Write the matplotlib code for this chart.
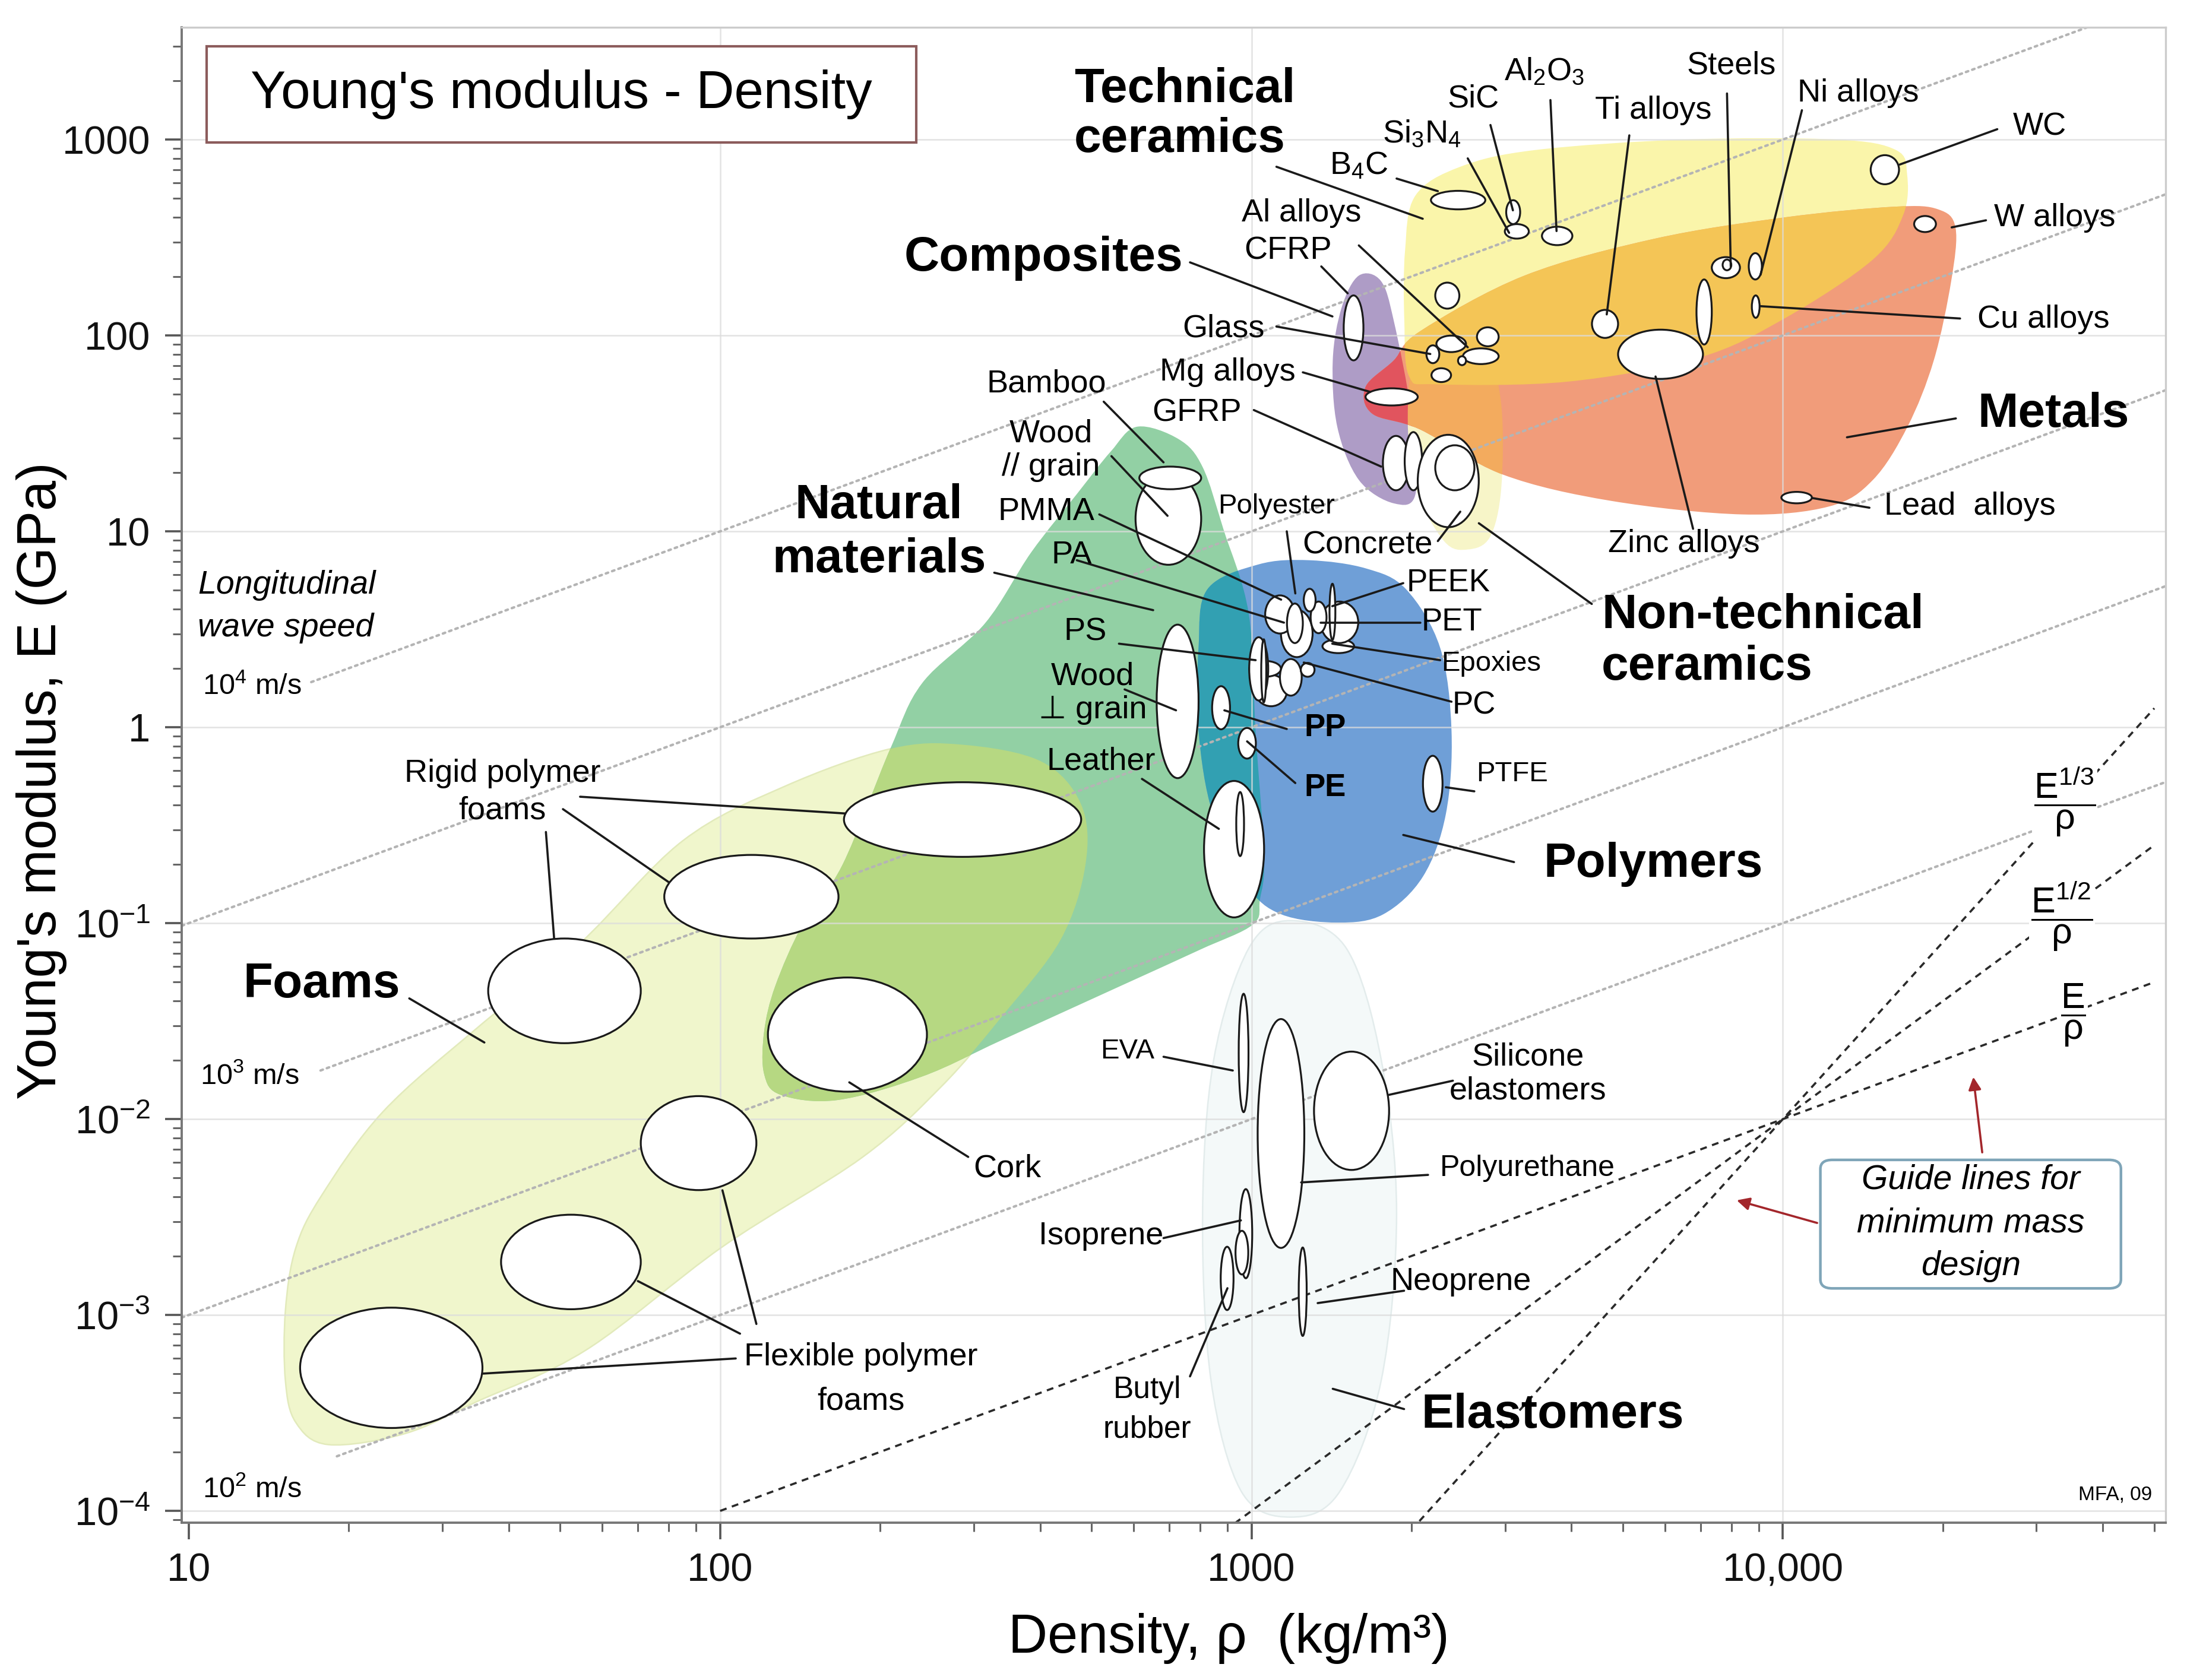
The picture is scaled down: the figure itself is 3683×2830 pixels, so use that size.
import numpy as np
import matplotlib
matplotlib.use("Agg")
import matplotlib.pyplot as plt
from matplotlib.path import Path
from matplotlib.patches import PathPatch, Rectangle, FancyBboxPatch
from matplotlib.ticker import LogLocator, NullFormatter, FixedLocator, FixedFormatter

plt.rcParams['font.family'] = ['Liberation Sans', 'DejaVu Sans']
plt.rcParams['mathtext.fontset'] = 'custom'
plt.rcParams['mathtext.rm'] = 'Liberation Sans'
plt.rcParams['mathtext.it'] = 'Liberation Sans:italic'
plt.rcParams['mathtext.bf'] = 'Liberation Sans:bold'

# ============================ DATA ============================
x_ticks = [10, 100, 1000, 10000]
x_tick_labels = ['10', '100', '1000', '10,000']
y_ticks = [1e-4, 1e-3, 1e-2, 1e-1, 1, 10, 100, 1000]
y_tick_labels = [r'$10^{-4}$', r'$10^{-3}$', r'$10^{-2}$', r'$10^{-1}$', '1', '10', '100', '1000']

# --- family envelopes (density kg/m3, modulus GPa) ---
foams_env_rho = [209, 285, 402, 478, 487, 437, 339, 261, 185, 101, 56, 34.9, 25.5, 18.3,
                 15.9, 15.2, 15.2, 15.9, 17.8, 23.2, 34.9, 54.3, 85, 132]
foams_env_E = [0.776, 0.815, 0.669, 0.403, 0.199, 0.0821, 0.0334, 0.0147, 6.37e-3, 2.23e-3,
               6.64e-4, 3.62e-4, 2.48e-4, 2.18e-4, 2.83e-4, 4.63e-4, 1.05e-3, 2.2e-3, 4.09e-3,
               0.0109, 0.0292, 0.0782, 0.263, 0.498]
natural_env_rho = [609, 730, 809, 886, 988, 1018, 1056, 1037, 1006, 800, 567, 339, 240, 166,
                   130, 121, 121, 127, 143, 170, 209, 240, 315, 385, 470, 543]
natural_env_E = [34.2, 29.5, 21.3, 10.2, 3.8, 0.944, 0.22, 0.132, 0.0984, 0.0732, 0.0478, 0.0253,
                 0.0165, 0.0125, 0.0133, 0.017, 0.0279, 0.0478, 0.0984, 0.199, 0.776, 1.68, 3.39,
                 7.82, 15.6, 25.5]
polymer_env_rho = [826, 1031, 1286, 1644, 1954, 2264, 2379, 2321, 2102, 1770, 1454, 1137, 981,
                   846, 795, 795]
polymer_env_E = [5.06, 6.78, 7.12, 6.46, 5.06, 2.55, 0.957, 0.36, 0.173, 0.111, 0.1007, 0.111,
                 0.156, 0.36, 0.957, 2.55]
elast_env_rho = [1185, 1508, 1754, 1875, 1754, 1464, 1185, 958, 839, 809, 849, 988]
elast_env_E = [0.103, 0.0744, 0.0201, 3.31e-3, 4.63e-4, 1.25e-4, 9.3e-5, 1.25e-4, 4.63e-4,
               3.31e-3, 0.0201, 0.0744]
composite_env_rho = [1592, 1751, 1852, 1998, 2037, 1852, 1592, 1450, 1422, 1478]
composite_env_E = [202, 190, 119, 39.9, 15.7, 13.9, 18.3, 34.2, 74.6, 139]
tech_env_rho = [2033, 2471, 3422, 6552, 12580, 16320, 17130, 16850, 14770, 10120, 6943, 3940,
                2238, 1980, 1939, 1945]
tech_env_E = [516, 726, 884, 1000, 1000, 884, 664, 413, 244, 123, 76.9, 58.1, 56.3, 61.7, 119, 270]
metal_env_rho = [2076, 3264, 5748, 10120, 16220, 19600, 21130, 20740, 19230, 17160, 14770, 12220,
                 8382, 4755, 2970, 2076, 1686, 1639, 1852]
metal_env_E = [105, 202, 312, 401, 454, 440, 354, 190, 74.6, 34.2, 18.3, 13.4, 12.2, 14.3, 19.5,
               33.1, 39.9, 54.6, 74.6]
nontech_env_rho = [2373, 2760, 2951, 2951, 2811, 2552, 2303, 2040, 1968, 2040]
nontech_env_E = [109, 85.6, 44.4, 16.6, 9.37, 8.08, 8.92, 16.6, 37.7, 78.8]

# --- material bubbles: (rho_low, rho_high), (E_low, E_high) ---
foam_bubble_rho = [(16.2, 35.7), (38.7, 70.9), (70.9, 117), (36.6, 70.9), (123, 245), (78.5, 167), (171, 478)]
foam_bubble_E = [(2.65e-4, 1.09e-3), (1.07e-3, 3.25e-3), (4.34e-3, 0.0131), (0.0244, 0.0835),
                 (0.0138, 0.0528), (0.0835, 0.223), (0.218, 0.524)]
natural_bubble_rho = [(605, 804), (615, 804), (663, 795), (814, 1056), (936, 968)]
natural_bubble_E = [(6.75, 19.9), (16.4, 21.4), (0.55, 3.34), (0.107, 0.532), (0.22, 0.467)]
polymer_bubble_rho = [(843, 911), (944, 1019), (2102, 2288), (1016, 1166), (990, 1136), (990, 1075),
                      (1043, 1066), (1131, 1243), (1238, 1314), (1136, 1303), (1061, 1206),
                      (1166, 1249), (1360, 1560), (1349, 1588), (1292, 1384), (1254, 1320), (1402, 1438)]
polymer_bubble_E = [(0.976, 1.62), (0.692, 0.992), (0.371, 0.715), (1.28, 1.85), (1.81, 2.18), (1.37, 2.88),
                    (1.34, 2.81), (1.45, 2.23), (1.81, 2.13), (2.28, 3.98), (3.01, 4.71),
                    (2.69, 4.28), (2.39, 2.81), (2.69, 4.38), (3.02, 4.38), (3.90, 5.09), (2.79, 5.40)]
elast_bubble_rho = [(946, 987), (1027, 1257), (1311, 1815), (949, 1003), (933, 986), (875, 925), (1227, 1270)]
elast_bubble_E = [(0.01085, 0.0436), (2.2e-3, 0.0324), (5.5e-3, 0.0221), (1.54e-3, 4.39e-3),
                  (1.61e-3, 2.69e-3), (1.06e-3, 2.23e-3), (7.82e-4, 2.21e-3)]
composite_bubble_rho = [(1491, 1624), (1767, 1980), (1942, 2094)]
composite_bubble_E = [(74.6, 160), (16.2, 30.7), (16.2, 32.1)]
ceramic_bubble_rho = [(2055, 2677), (2217, 2627), (2176, 2754), (3015, 3203), (2997, 3325), (3520, 4016),
                      (14630, 16540), (2217, 2461), (2134, 2256)]
ceramic_bubble_E = [(10.5, 31.1), (16.2, 27.5), (440, 547), (370, 490), (312, 370), (289, 359),
                    (591, 832), (137, 186), (72.2, 89)]
metal_bubble_rho = [(17660, 19410), (7348, 8302), (7702, 7997), (8625, 9129), (8741, 9040), (6877, 7348),
                    (4372, 4896), (4896, 7073), (9934, 11340), (1639, 2055), (2228, 2533), (2656, 2918),
                    (2500, 2918), (2447, 2533), (2181, 2374)]
metal_bubble_E = [(337, 407), (196, 251), (215, 244), (193, 263), (123, 160), (89.9, 193),
                  (97.1, 135), (60, 107), (13.9, 15.9), (43.9, 53.7), (82.2, 99.8), (88, 110),
                  (71.4, 85.9), (70.5, 78.3), (57.8, 68)]

# --- longitudinal wave speed lines: E/rho (GPa per kg/m3) and first density drawn ---
wave_ratio = [1e-1, 1e-2, 1e-3, 1e-4, 1e-5]
wave_rho_start = [17, 9.7, 17.7, 9.7, 19]

# --- minimum-mass guide lines E^(1/n)/rho through a common point ---
guide_n = [1, 2, 3]
guide_point_rho, guide_point_E = 1e4, 1e-2
guide_rho_start = [100, 930, 2070]
guide_rho_end = 50000

# --- leader lines (rho0, E0, rho1, E1) ---
leaders = [
    (1114, 726, 2100, 394), (766, 236, 1420, 125), (1353, 225, 1517, 164), (1592, 288, 2552, 87),
    (1114, 111, 2170, 80.4), (1249, 64.8, 1672, 51.5), (1010, 41.6, 1754, 21.4), (527, 45.9, 683, 22.5),
    (545, 24.2, 695, 12), (1165, 10, 1209, 4.82), (2242, 8.92, 2471, 12.6), (2678, 11, 4369, 4.26),
    (5759, 61.7, 6776, 10.3), (11340, 14.8, 14550, 13.2), (13200, 30.2, 21160, 37.7),
    (9078, 141, 21550, 122), (20780, 356, 24110, 387), (16590, 745, 25320, 1129),
    (10860, 1411, 9078, 204), (7849, 1718, 7978, 225), (5140, 1050, 4661, 128),
    (3652, 1590, 3750, 341), (2816, 1186, 3104, 435), (2552, 801, 3053, 334), (1875, 632, 2242, 545),
    (328, 6.15, 653, 3.96), (517, 12.2, 1137, 4.48), (469, 7.12, 1151, 3.42), (563, 2.67, 1018, 2.2),
    (577, 1.56, 721, 1.22), (622, 0.545, 868, 0.303), (889, 1.22, 1165, 0.98), (981, 0.847, 1209, 0.519),
    (2321, 0.494, 2626, 0.471), (1930, 0.282, 3119, 0.205), (1419, 4.15, 1930, 5.44),
    (1350, 3.42, 2078, 3.42), (1419, 2.67, 2265, 2.2), (1254, 2.14, 2379, 1.35),
    (54.5, 0.442, 172, 0.363), (50.6, 0.382, 80, 0.162), (47, 0.292, 48.7, 0.0838),
    (26, 0.0413, 36, 0.0246), (175, 0.0154, 293, 6.41e-3),
    (35.7, 5.02e-4, 107, 6e-4), (70, 1.49e-3, 109, 8.03e-4), (101, 4.33e-3, 117, 9e-4),
    (683, 0.0208, 922, 0.0177), (1815, 0.0133, 2393, 0.0157), (1240, 4.75e-3, 2149, 5.19e-3),
    (683, 2.47e-3, 955, 3.04e-3), (1332, 1.15e-3, 1937, 1.33e-3), (766, 4.86e-4, 901, 1.37e-3),
    (1422, 4.2e-4, 1937, 3.31e-4),
]

# --- labels: text, rho, E, size, weight, ha, linespacing ---
family_labels = [
    ("Technical\nceramics", 464, 1343, 'left', 1.14),
    ("Composites", 406, 248, 'center', 1.15),
    ("Natural\nmaterials", 199, 9.84, 'center', 1.26),
    ("Metals", 32300, 39.6, 'center', 1.15),
    ("Non-technical\nceramics", 4558, 2.74, 'left', 1.18),
    ("Polymers", 5699, 0.199, 'center', 1.15),
    ("Foams", 17.8, 0.0486, 'center', 1.15),
    ("Elastomers", 3689, 3.07e-4, 'center', 1.15),
]
material_labels = [
    ("Al alloys", 1243, 420, 19.5, 'normal', 'center', 1.15),
    ("CFRP", 1170, 270, 19.5, 'normal', 'center', 1.15),
    ("Glass", 886, 108, 19.5, 'normal', 'center', 1.15),
    ("Mg alloys", 902, 64.8, 19.5, 'normal', 'center', 1.15),
    ("GFRP", 790, 40.3, 19.5, 'normal', 'center', 1.15),
    ("Bamboo", 411, 56.8, 19.5, 'normal', 'center', 1.15),
    ("Wood\n// grain", 419, 25.9, 19.5, 'normal', 'center', 1.16),
    ("PMMA", 411, 12.6, 19.5, 'normal', 'center', 1.15),
    ("PA", 459, 7.57, 19.5, 'normal', 'center', 1.15),
    ("PS", 487, 3.07, 19.5, 'normal', 'center', 1.15),
    ("Wood\n\u22a5 grain", 502, 1.49, 19.5, 'normal', 'center', 1.16),
    ("Leather", 521, 0.669, 19.5, 'normal', 'center', 1.15),
    ("Polyester", 1115, 13.4, 17, 'normal', 'center', 1.15),
    ("Concrete", 1651, 8.49, 19.5, 'normal', 'center', 1.15),
    ("PEEK", 1956, 5.45, 19, 'normal', 'left', 1.15),
    ("PET", 2090, 3.45, 19, 'normal', 'left', 1.15),
    ("Epoxies", 2275, 2.11, 17, 'normal', 'left', 1.15),
    ("PC", 2388, 1.29, 19, 'normal', 'left', 1.15),
    ("PP", 1377, 0.992, 19, 'bold', 'center', 1.15),
    ("PE", 1377, 0.49, 19, 'bold', 'center', 1.15),
    ("PTFE", 2646, 0.578, 17, 'normal', 'left', 1.15),
    ("Zinc alloys", 6512, 8.63, 19.5, 'normal', 'center', 1.15),
    ("Lead  alloys", 22480, 13.4, 19.5, 'normal', 'center', 1.15),
    ("Cu alloys", 30960, 121, 19.5, 'normal', 'center', 1.15),
    ("W alloys", 32490, 399, 19.5, 'normal', 'center', 1.15),
    ("WC", 30410, 1159, 19.5, 'normal', 'center', 1.15),
    ("Ni alloys", 13860, 1718, 19.5, 'normal', 'center', 1.15),
    ("Steels", 7997, 2384, 19.5, 'normal', 'center', 1.15),
    ("Ti alloys", 5699, 1411, 19.5, 'normal', 'center', 1.15),
    (r"Al$_2$O$_3$", 3558, 2233, 19.5, 'normal', 'center', 1.15),
    ("SiC", 2615, 1609, 19.5, 'normal', 'center', 1.15),
    (r"Si$_3$N$_4$", 2090, 1068, 19.5, 'normal', 'center', 1.15),
    (r"B$_4$C", 1592, 732, 19.5, 'normal', 'center', 1.15),
    ("Rigid polymer\nfoams", 38.9, 0.467, 19.5, 'normal', 'center', 1.34),
    ("Cork", 347, 5.59e-3, 19.5, 'normal', 'center', 1.15),
    ("Flexible polymer\nfoams", 184, 4.7e-4, 19.5, 'normal', 'center', 1.64),
    ("EVA", 584, 0.0221, 17, 'normal', 'center', 1.15),
    ("Silicone\nelastomers", 3309, 0.017, 19.5, 'normal', 'center', 1.16),
    ("Polyurethane", 3309, 5.59e-3, 18, 'normal', 'center', 1.15),
    ("Isoprene", 521, 2.54e-3, 19.5, 'normal', 'center', 1.15),
    ("Neoprene", 2476, 1.48e-3, 19.5, 'normal', 'center', 1.15),
    ("Butyl\nrubber", 636, 3.28e-4, 18.5, 'normal', 'center', 1.47),
]
wave_labels = [(r"$10^4$ m/s", 10.6, 1.6), (r"$10^3$ m/s", 10.5, 0.0165), (r"$10^2$ m/s", 10.6, 1.29e-4)]
guide_labels = [(r"$\dfrac{\mathrm{E}^{1/3}}{\mathrm{\rho}}$", 33910, 0.416),
                (r"$\dfrac{\mathrm{E}^{1/2}}{\mathrm{\rho}}$", 33500, 0.1086),
                (r"$\dfrac{\mathrm{E}}{\mathrm{\rho}}$", 35160, 0.0339)]
red_arrows = [((23720, 6.76e-3), (22820, 0.0164)), ((11600, 2.95e-3), (8186, 3.85e-3))]

# ============================ HELPERS ============================
def smooth_closed(rho, E):
    P = np.column_stack([np.log10(rho), np.log10(E)])
    n = len(P)
    verts = [P[0]]
    codes = [Path.MOVETO]
    for i in range(n):
        p0, p1, p2, p3 = P[i - 1], P[i], P[(i + 1) % n], P[(i + 2) % n]
        c1 = p1 + (p2 - p0) / 6.0
        c2 = p2 - (p3 - p1) / 6.0
        verts += [c1, c2, p2]
        codes += [Path.CURVE4] * 3
    verts.append(P[0])
    codes.append(Path.CLOSEPOLY)
    return Path(10 ** np.array(verts), codes)


def bubble_path(rr, ee):
    lr = np.log10(rr)
    le = np.log10(ee)
    cx, a = lr.mean(), (lr[1] - lr[0]) / 2
    cy, b = le.mean(), (le[1] - le[0]) / 2
    circ = Path.unit_circle()
    v = circ.vertices * np.array([a, b]) + np.array([cx, cy])
    return Path(10 ** v, circ.codes)

# ============================ FIGURE ============================
fig = plt.figure(figsize=(3683 / 200, 2830 / 200), dpi=200)
ax = fig.add_axes([0.0831, 0.0936, 0.9071, 0.8903])
ax.set_xscale('log')
ax.set_yscale('log')
ax.set_xlim(9.7, 52500)
ax.set_ylim(8.7e-5, 3750)


def env(rho, E, color, z, edge='none', lw=0):
    p = PathPatch(smooth_closed(rho, E), facecolor=color, edgecolor=edge, lw=lw, zorder=z)
    ax.add_patch(p)
    return p

# envelopes
p_el = env(elast_env_rho, elast_env_E, '#f4f9f9', 1.0, '#e3ecec', 0.9)
p_fo = env(foams_env_rho, foams_env_E, '#f0f6cc', 1.1, '#e2eabb', 0.9)
p_na = env(natural_env_rho, natural_env_E, '#92d0a4', 1.2)
lime = env(natural_env_rho, natural_env_E, '#b6d882', 1.3)
lime.set_clip_path(p_fo)
p_po = env(polymer_env_rho, polymer_env_E, '#6f9fd7', 1.4)
teal = env(polymer_env_rho, polymer_env_E, '#32a0b2', 1.5)
teal.set_clip_path(p_na)
p_co = env(composite_env_rho, composite_env_E, '#ae9cc6', 1.4)
p_te = env(tech_env_rho, tech_env_E, '#faf5aa', 1.45)
p_nt = env(nontech_env_rho, nontech_env_E, '#f7f5c8', 1.5)
p_me = env(metal_env_rho, metal_env_E, '#f19c7a', 1.55)
red = env(metal_env_rho, metal_env_E, '#e1545e', 1.6)
red.set_clip_path(p_co)
orng = env(nontech_env_rho, nontech_env_E, '#f3ab5e', 1.65)
orng.set_clip_path(p_me)
gold = env(metal_env_rho, metal_env_E, '#f4c556', 1.7)
gold.set_clip_path(p_te)

# faint decade grid
for yv in y_ticks:
    ax.axhline(yv, color='#dcdcdc', lw=0.9, zorder=2.0, alpha=0.8)
for xv in x_ticks[1:]:
    ax.axvline(xv, color='#dcdcdc', lw=0.9, zorder=2.0, alpha=0.8)

# wave-speed lines
xmax, ymax = ax.get_xlim()[1], ax.get_ylim()[1]
for k, r0 in zip(wave_ratio, wave_rho_start):
    r1 = min(xmax, ymax / k)
    ax.plot([r0, r1], [k * r0, k * r1], color='#b4b4b4', lw=1.5, ls=(0, (1.0, 1.7)),
            zorder=2.1, solid_capstyle='round', dash_capstyle='round')

# guide lines
for n, r0 in zip(guide_n, guide_rho_start):
    rr = np.array([r0, guide_rho_end], float)
    ee = guide_point_E * (rr / guide_point_rho) ** n
    ax.plot(rr, ee, color='#2a2a2a', lw=1.3, ls=(0, (3.2, 2.6)), zorder=2.2)

# bubbles
groups = [(foam_bubble_rho, foam_bubble_E), (natural_bubble_rho, natural_bubble_E),
          (polymer_bubble_rho, polymer_bubble_E), (elast_bubble_rho, elast_bubble_E),
          (composite_bubble_rho, composite_bubble_E), (ceramic_bubble_rho, ceramic_bubble_E),
          (metal_bubble_rho, metal_bubble_E)]
z = 3.0
for brho, bE in groups:
    for rr, ee in zip(brho, bE):
        z += 0.001
        ax.add_patch(PathPatch(bubble_path(rr, ee), facecolor='white', edgecolor='#1a1a1a',
                               lw=1.15, zorder=z))

# leader lines
for r0, e0, r1, e1 in leaders:
    ax.plot([r0, r1], [e0, e1], color='#1a1a1a', lw=1.3, zorder=4, solid_capstyle='round')

# labels
for txt, r, e, ha, ls in family_labels:
    ax.text(r, e, txt, fontsize=29.5, fontweight='bold', ha=ha, va='center', linespacing=ls,
            multialignment=ha, zorder=5)
for txt, r, e, fs, fw, ha, ls in material_labels:
    ax.text(r, e, txt, fontsize=fs, fontweight=fw, ha=ha, va='center', linespacing=ls,
            multialignment=ha, zorder=5)
ax.text(10.4, 4.13, "Longitudinal\nwave speed", fontsize=20, fontstyle='italic', ha='left',
        va='center', linespacing=1.5, zorder=5)
for txt, r, e in wave_labels:
    ax.text(r, e, txt, fontsize=17.5, ha='left', va='center', zorder=5)
for txt, r, e in guide_labels:
    ax.text(r, e, txt, fontsize=22, ha='center', va='center', zorder=4.5,
            bbox=dict(facecolor='white', edgecolor='none', pad=1.0))

# red arrows
for (x0, y0), (x1, y1) in red_arrows:
    ax.annotate('', xy=(x1, y1), xytext=(x0, y0),
                arrowprops=dict(arrowstyle='-|>', color='#a3262b', lw=1.3, mutation_scale=16,
                                shrinkA=0, shrinkB=0), zorder=5)

# guide box
ax.add_patch(FancyBboxPatch((0.826, 0.1567), 0.1515, 0.0859, boxstyle='round,pad=0,rounding_size=0.006',
                            transform=ax.transAxes, facecolor='white', edgecolor='#7fa5b8', lw=1.6,
                            zorder=4.8))
ax.text(0.9018, 0.2004, "Guide lines for\nminimum mass\ndesign", transform=ax.transAxes,
        fontsize=20.5, fontstyle='italic', ha='center', va='center', linespacing=1.45, zorder=5)

# title box
ax.add_patch(Rectangle((0.01244, 0.923), 0.3579, 0.0643, transform=ax.transAxes,
                       facecolor='white', edgecolor='#8c5c5c', lw=1.5, zorder=6))
ax.text(0.1914, 0.955, "Young's modulus - Density", transform=ax.transAxes, fontsize=32,
        ha='center', va='center', zorder=6.5)

ax.text(0.9746, 0.0186, "MFA, 09", transform=ax.transAxes, fontsize=12, ha='center',
        va='center', zorder=5)

# axes styling
ax.xaxis.set_major_locator(FixedLocator(x_ticks))
ax.xaxis.set_major_formatter(FixedFormatter(x_tick_labels))
ax.yaxis.set_major_locator(FixedLocator(y_ticks))
ax.yaxis.set_major_formatter(FixedFormatter(y_tick_labels))
ax.xaxis.set_minor_locator(LogLocator(base=10, subs=np.arange(2, 10), numticks=20))
ax.yaxis.set_minor_locator(LogLocator(base=10, subs=np.arange(2, 10), numticks=20))
ax.xaxis.set_minor_formatter(NullFormatter())
ax.yaxis.set_minor_formatter(NullFormatter())
ax.tick_params(which='major', direction='out', length=10, width=1.3, color='#555555',
               labelsize=24, labelcolor='#111111')
ax.tick_params(which='minor', direction='out', length=5.5, width=1.1, color='#666666')
ax.tick_params(axis='x', which='major', pad=8)
ax.tick_params(axis='y', which='major', pad=9)
for s in ['left', 'bottom']:
    ax.spines[s].set_color('#777777')
    ax.spines[s].set_linewidth(1.4)
for s in ['top', 'right']:
    ax.spines[s].set_color('#cccccc')
    ax.spines[s].set_linewidth(1.2)

fig.text(0.019, 1 - 560 / 1205, "Young's modulus, E (GPa)", rotation=90, fontsize=33,
         ha='center', va='center')
fig.text(881 / 1568, 1 - 1175 / 1205, "Density, \u03c1  (kg/m\u00b3)", fontsize=33,
         ha='center', va='center')

fig.savefig('out.png', dpi=200, facecolor='white')
